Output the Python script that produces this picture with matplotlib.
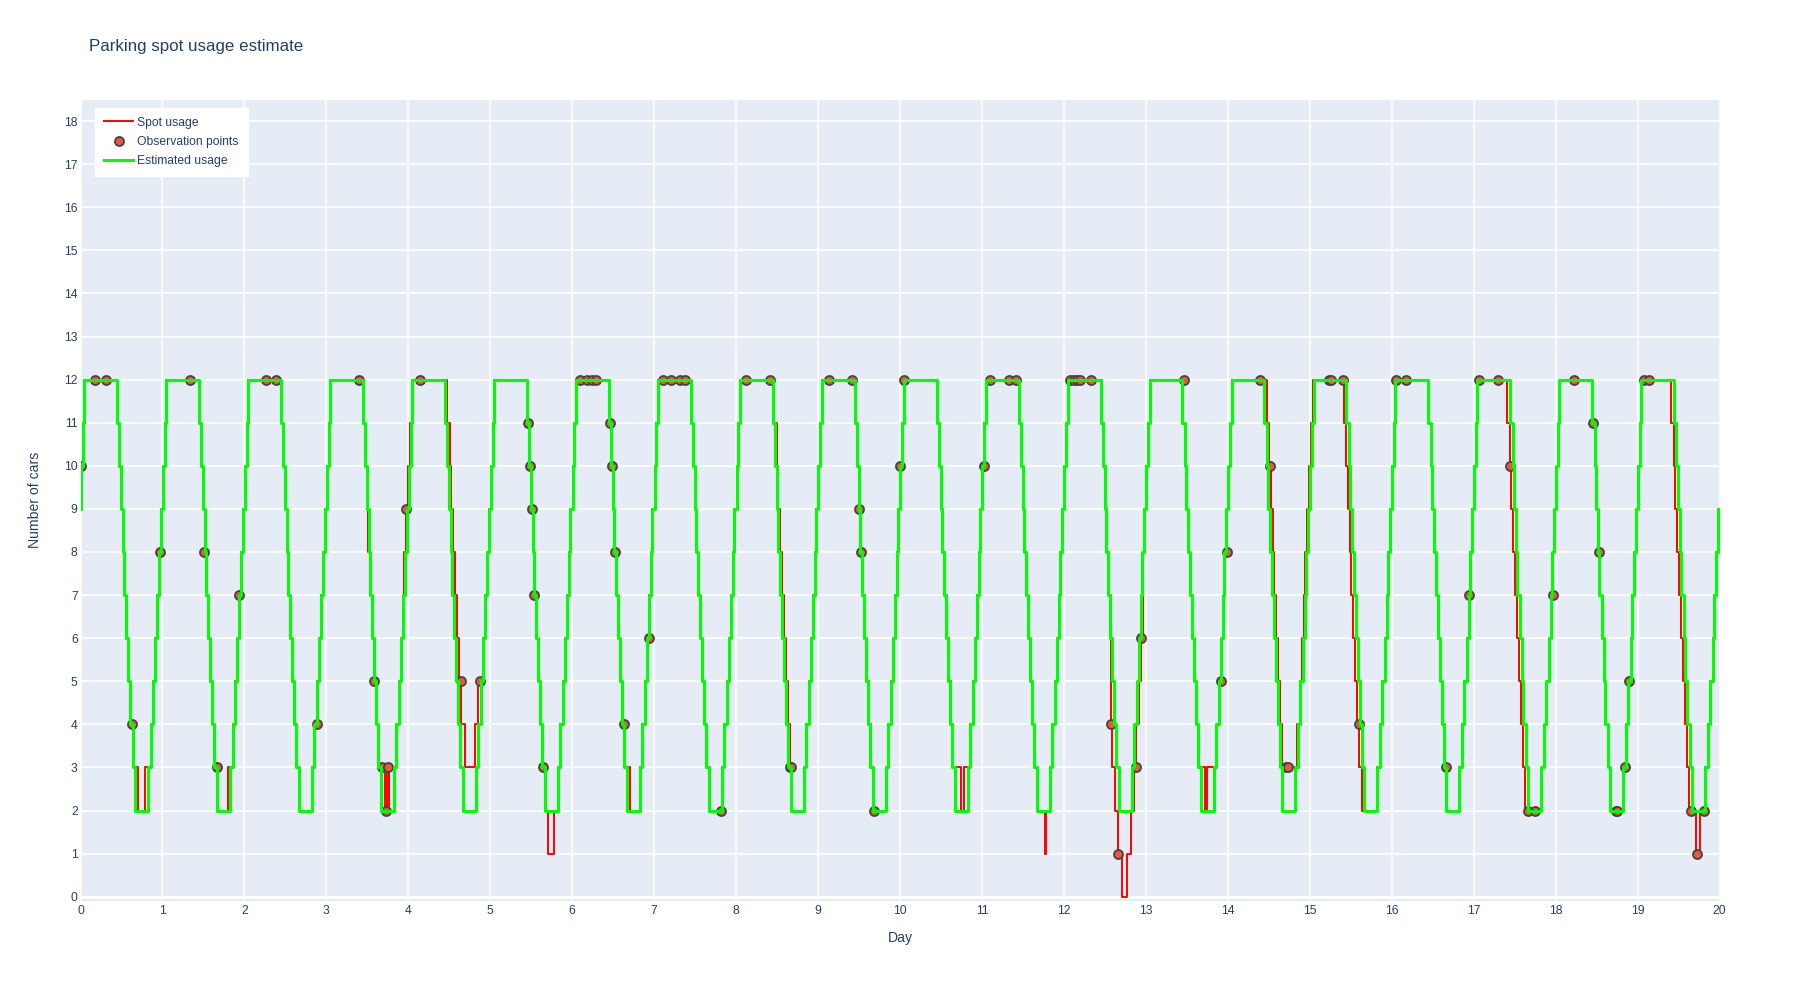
import numpy as np
import matplotlib.pyplot as plt

plt.rcParams['font.family'] = ['Liberation Sans', 'DejaVu Sans']

# estimated usage: one day profile (fraction of the day where the level changes)
est_fall_times = [0.447, 0.475, 0.496, 0.516, 0.535, 0.561, 0.585, 0.608, 0.635, 0.667]
est_fall_levels = [11, 10, 9, 8, 7, 6, 5, 4, 3, 2]
est_rise_times = [0.826, 0.855, 0.887, 0.915, 0.938, 0.958, 0.979, 1.005, 1.028, 1.046]
est_rise_levels = [3, 4, 5, 6, 7, 8, 9, 10, 11, 12]
n_days = 20
start_level = 9

# spot usage: how much earlier/later than the estimate the cars leave / come back, per day
spot_fall_shift = [0, 0, 0, -0.004, 0.03, 0, 0, 0, 0.02, 0.008,
                   0.01, 0, 0.012, 0, 0.03, -0.028, 0, -0.035, 0, -0.035]
spot_rise_shift = [0, 0, 0, -0.005, 0, 0, 0, 0, 0, 0,
                   0, 0, 0, 0.01, -0.01, 0, 0, 0.01, 0, 0]

# spots where the real usage leaves the estimate
dev_start = [0.667, 0.785, 1.795, 3.667, 3.74, 4.64, 4.69, 4.815, 4.855, 5.702,
             6.667, 10.667, 10.777, 11.772, 12.575, 12.588, 12.629, 12.657, 12.71,
             12.771, 12.824, 12.856, 12.885, 12.915, 12.94,
             13.667, 13.745, 14.667, 19.709]
dev_end = [0.705, 0.826, 1.826, 3.715, 3.765, 4.69, 4.815, 4.855, 4.887, 5.779,
           6.707, 10.75, 10.826, 11.778, 12.588, 12.629, 12.657, 12.71, 12.771,
           12.824, 12.856, 12.885, 12.915, 12.94, 12.96,
           13.72, 13.826, 14.826, 19.762]
dev_level = [3, 3, 3, 3, 3, 4, 3, 4, 5, 1,
             3, 3, 3, 1, 4, 3, 2, 1, 0,
             1, 2, 3, 4, 5, 6,
             3, 3, 3, 1]

obs_day = [0.0, 0.175, 0.31, 0.63, 0.97, 1.34, 1.51, 1.66, 1.94, 2.26, 2.38, 2.89,
           3.40, 3.58, 3.68, 3.73, 3.75, 3.97, 4.14, 4.64, 4.88,
           5.466, 5.482, 5.506, 5.539, 5.641, 6.097, 6.186, 6.243, 6.292,
           6.467, 6.483, 6.52, 6.626, 6.939, 7.106, 7.204, 7.318, 7.374, 7.81,
           8.12, 8.416, 8.66, 8.675, 9.133, 9.413, 9.495, 9.52, 9.678, 10.0,
           10.052, 11.021, 11.094, 11.326, 11.416, 12.071, 12.12, 12.16, 12.193,
           12.332, 12.58, 12.657, 12.881, 12.946, 13.463, 13.923, 13.988,
           14.387, 14.521, 14.705, 14.737, 15.24, 15.26, 15.40, 15.598,
           16.05, 16.18, 16.66, 16.94, 17.064, 17.30, 17.442, 17.658, 17.748,
           17.963, 18.228, 18.46, 18.529, 18.74, 18.75, 18.846, 18.895,
           19.082, 19.14, 19.648, 19.73, 19.807]
obs_cars = [10, 12, 12, 4, 8, 12, 8, 3, 7, 12, 12, 4,
            12, 5, 3, 2, 3, 9, 12, 5, 5,
            11, 10, 9, 7, 3, 12, 12, 12, 12,
            11, 10, 8, 4, 6, 12, 12, 12, 12, 2,
            12, 12, 3, 3, 12, 12, 9, 8, 2, 10,
            12, 10, 12, 12, 12, 12, 12, 12, 12,
            12, 4, 1, 3, 6, 12, 5, 8,
            12, 10, 3, 3, 12, 12, 12, 4,
            12, 12, 3, 7, 12, 12, 10, 2, 2,
            7, 12, 11, 8, 2, 2, 3, 5,
            12, 12, 2, 1, 2]


def build_steps(fall_shift, rise_shift):
    events = []
    for d in range(-1, n_days):
        if d >= 0:
            for ft, lv in zip(est_fall_times, est_fall_levels):
                events.append((d + ft + fall_shift[d], lv))
        rs = rise_shift[d] if d >= 0 else 0
        for rt, lv in zip(est_rise_times, est_rise_levels):
            events.append((d + rt + rs, lv))
    events = sorted(e for e in events if 0 < e[0] < n_days)
    t = [0.0] + [e[0] for e in events]
    v = [start_level] + [e[1] for e in events]
    t.append(float(n_days))
    v.append(v[-1])
    return np.array(t), np.array(v)


t_est, v_est = build_steps([0] * n_days, [0] * n_days)
t_base, v_base = build_steps(spot_fall_shift, spot_rise_shift)

# put the deviations on top of the shifted profile
t_spot = np.array(sorted(set(t_base) | set(dev_start) | set(dev_end)))
v_spot = []
for t in t_spot:
    val = v_base[np.searchsorted(t_base, t, side='right') - 1]
    for s, e, lv in zip(dev_start, dev_end, dev_level):
        if s <= t < e:
            val = lv
    v_spot.append(val)

# plot area in pixels of the 1800x1000 image
left, right, top, bottom = 80.5, 1719.5, 99.5, 900.7
fig = plt.figure(figsize=(18, 10), dpi=100)
ax = fig.add_axes([left / 1800, 1 - bottom / 1000, (right - left) / 1800, (bottom - top) / 1000])
ax.set_facecolor('#E5ECF6')

ax.plot(t_spot, v_spot, drawstyle='steps-post', color='red', lw=1.4,
        label='Spot usage', zorder=3)
ax.plot(obs_day, obs_cars, 'o', ms=6.5, mfc='#EF553B', mec='#444444', mew=1.3,
        label='Observation points', zorder=4)
ax.plot(t_est, v_est, drawstyle='steps-post', color='lime', lw=2.2,
        label='Estimated usage', zorder=5)

ax.set_xlim(0, 20)
ax.set_ylim(-0.093, 18.5)
ax.set_xticks(range(0, 21))
ax.set_yticks(range(0, 19))
ax.grid(True, color='white', lw=1.1)
ax.set_axisbelow(True)
ax.axhline(0, color='white', lw=2.2, zorder=1)
for s in ax.spines.values():
    s.set_visible(False)
ax.tick_params(length=0, labelsize=8.7, colors='#2a3f5f', pad=3)
ax.tick_params(axis='y', pad=2)

h = bottom - top
w = right - left
ax.set_xlabel('Day', fontsize=10.1, color='#2a3f5f')
ax.xaxis.set_label_coords(0.5, -(931 - bottom) / h)
ax.set_ylabel('Number of cars', fontsize=10.1, color='#2a3f5f')
ax.yaxis.set_label_coords((42 - left) / w, 0.5)

fig.text(89 / 1800, 1 - 46.5 / 1000, 'Parking spot usage estimate', fontsize=12.2,
         color='#2a3f5f', va='center')

leg = ax.legend(loc='upper left', bbox_to_anchor=((95 - left) / w, (bottom - 107.5) / h),
                borderaxespad=0, fontsize=8.7, frameon=True, fancybox=False, framealpha=1,
                handlelength=2.4, handletextpad=0.35, labelspacing=0.6, borderpad=0.75)
leg.get_frame().set_facecolor('white')
leg.get_frame().set_edgecolor('white')
for txt in leg.get_texts():
    txt.set_color('#2a3f5f')

fig.savefig('out.png', dpi=100)
